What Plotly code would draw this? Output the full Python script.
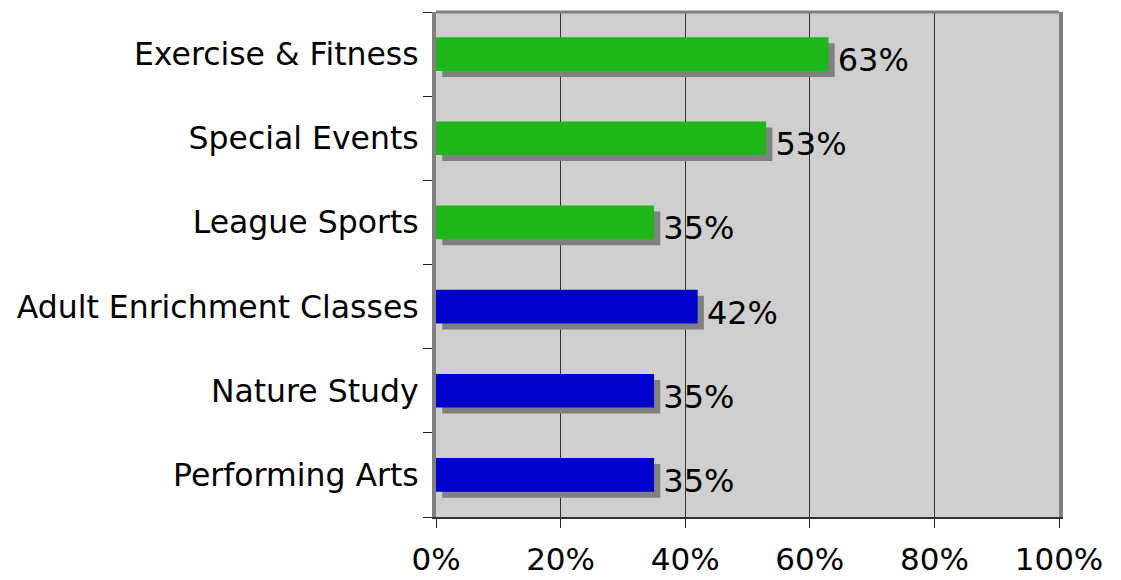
import plotly.graph_objects as go

categories = ["Performing Arts", "Nature Study", "Adult Enrichment Classes",
              "League Sports", "Special Events", "Exercise & Fitness"]
values = [35, 35, 42, 35, 53, 63]
bar_colors = ["#0000cc", "#0000cc", "#0000cc", "#1eb717", "#1eb717", "#1eb717"]
labels = [f"{v}%" for v in values]
tick_vals = [0, 20, 40, 60, 80, 100]
tick_text = ["0%", "20%", "40%", "60%", "80%", "100%"]

FONT = "DejaVu Sans"
shadow_shift = 1.0   # in % units
bar_w = 0.40

fig = go.Figure()
# shadow bars (carry the value labels)
fig.add_trace(go.Bar(
    y=categories, x=values, base=[shadow_shift] * len(values), orientation="h",
    marker=dict(color="#808080", line=dict(width=0)),
    width=bar_w, offset=-bar_w / 2 - 0.071,
    text=labels, textposition="outside", cliponaxis=False, constraintext="none",
    textfont=dict(family=FONT, size=32, color="black"),
    hoverinfo="skip", showlegend=False,
))
# main bars
fig.add_trace(go.Bar(
    y=categories, x=values, orientation="h",
    marker=dict(color=bar_colors, line=dict(width=0)),
    width=bar_w, offset=-bar_w / 2,
    showlegend=False,
))

fig.update_layout(
    width=1113, height=572,
    margin=dict(l=428, r=62, t=4, b=63, autoexpand=False),
    paper_bgcolor="white", plot_bgcolor="#cfcfcf",
    barmode="overlay", bargap=0.6,
    font=dict(family=FONT, color="black"),
    shapes=[dict(type="line", xref="paper", yref="paper", x0=0, x1=1, y0=1, y1=1,
                 line=dict(color="#808080", width=3), layer="above")],
)
fig.update_xaxes(
    range=[0, 100], tickvals=tick_vals, ticktext=tick_text,
    tickfont=dict(family=FONT, size=31, color="black"),
    ticks="outside", ticklen=9, tickcolor="#222", tickwidth=1,
    showgrid=True, gridcolor="#333333", gridwidth=1,
    showline=True, linecolor="#333333", linewidth=2, zeroline=False,
    ticklabelstandoff=5, automargin=False,
)
fig.update_yaxes(
    categoryorder="array", categoryarray=categories,
    tickfont=dict(family=FONT, size=31.5, color="black"),
    ticks="outside", tickson="boundaries", ticklen=9, tickcolor="#222",
    showgrid=False, showline=True, linecolor="#808080", linewidth=4, mirror=True,
    ticklabelstandoff=7, automargin=False,
)

fig.write_html("out.html")
